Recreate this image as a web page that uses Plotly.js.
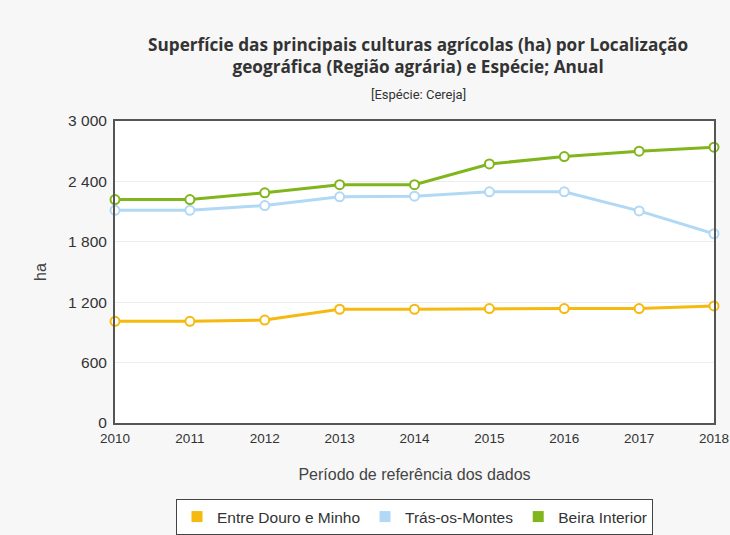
<!DOCTYPE html>
<html>
<head>
<meta charset="utf-8">
<script src="https://cdn.plot.ly/plotly-3.0.1.min.js"></script>
<style>html,body{margin:0;padding:0;background:#f7f7f7;}#chart{width:730px;height:535px;}</style>
</head>
<body>
<div id="chart"></div>
<script>
var years = [2010, 2011, 2012, 2013, 2014, 2015, 2016, 2017, 2018];
var seriesNames = ["Entre Douro e Minho", "Trás-os-Montes", "Beira Interior"];
var entreDouroMinho = [1010, 1010, 1023, 1130, 1130, 1137, 1137, 1137, 1163];
var trasOsMontes = [2113, 2113, 2160, 2247, 2253, 2297, 2297, 2107, 1880];
var beiraInterior = [2220, 2220, 2287, 2367, 2367, 2573, 2647, 2700, 2740];
var yTickVals = [0, 600, 1200, 1800, 2400, 3000];
var yTickText = ["0", "600", "1 200", "1 800", "2 400", "3 000"];
var colors = ["#f5b90f", "#b1d8f5", "#80b51c"];
var allSeries = [entreDouroMinho, trasOsMontes, beiraInterior];

var traces = [];
allSeries.forEach(function (vals, i) {
  traces.push({
    x: years, y: vals, type: "scatter", mode: "lines+markers",
    name: seriesNames[i], showlegend: false, cliponaxis: false,
    line: {color: colors[i], width: 3},
    marker: {symbol: "circle", size: 9, color: "#ffffff", line: {color: colors[i], width: 2}}
  });
});
allSeries.forEach(function (vals, i) {
  traces.push({
    x: [null], y: [null], type: "scatter", mode: "markers",
    name: seriesNames[i], showlegend: true,
    marker: {symbol: "square", size: 11, color: colors[i]}
  });
});

var layout = {
  width: 730, height: 535,
  paper_bgcolor: "#f7f7f7", plot_bgcolor: "#ffffff",
  margin: {l: 115, r: 16, t: 121, b: 112, autoexpand: false},
  font: {family: "Liberation Sans, Arial, sans-serif", color: "#333333", size: 12},
  title: {
    text: "<b>Superfície das principais culturas agrícolas (ha) por Localização<br>geográfica (Região agrária) e Espécie; Anual</b>",
    font: {family: "Open Sans, Roboto, sans-serif", size: 17.2, weight: 700, color: "#333333"},
    x: 0.506, xanchor: "center", xref: "paper",
    yref: "container", y: 1 - 51/535, yanchor: "top"
  },
  annotations: [{
    text: "[Espécie: Cereja]", xref: "paper", yref: "paper",
    x: 0.506, y: (423 - 94) / 302, xanchor: "center", yanchor: "middle",
    showarrow: false, font: {family: "Roboto, Liberation Sans, sans-serif", size: 13, color: "#333333"}
  }],
  xaxis: {
    range: [2010, 2018], tickvals: years, ticktext: years.map(String),
    showgrid: false, zeroline: false,
    showline: true, linecolor: "#555555", linewidth: 2, mirror: true,
    ticks: "outside", ticklen: 2, tickcolor: "rgba(0,0,0,0)",
    tickfont: {size: 13.5, color: "#333333"},
    title: {text: "Período de referência dos dados", font: {size: 16, color: "#444444"}, standoff: 24}
  },
  yaxis: {
    range: [0, 3000], tickvals: yTickVals, ticktext: yTickText,
    showgrid: true, gridcolor: "#ededed", gridwidth: 1, zeroline: false,
    showline: true, linecolor: "#555555", linewidth: 2, mirror: true,
    ticks: "outside", ticklen: 3, tickcolor: "rgba(0,0,0,0)",
    tickfont: {size: 15.5, color: "#333333"},
    title: {text: "ha", font: {size: 16, color: "#444444"}, standoff: 18}
  },
  legend: {
    orientation: "h", x: 0.5, xanchor: "center", y: -(499 - 423) / 302, yanchor: "top",
    bgcolor: "#ffffff", bordercolor: "#444444", borderwidth: 1,
    font: {size: 15.5, color: "#333333"}, itemwidth: 30, tracegroupgap: 0
  }
};

Plotly.newPlot("chart", traces, layout, {displayModeBar: false, staticPlot: true});
</script>
</body>
</html>
